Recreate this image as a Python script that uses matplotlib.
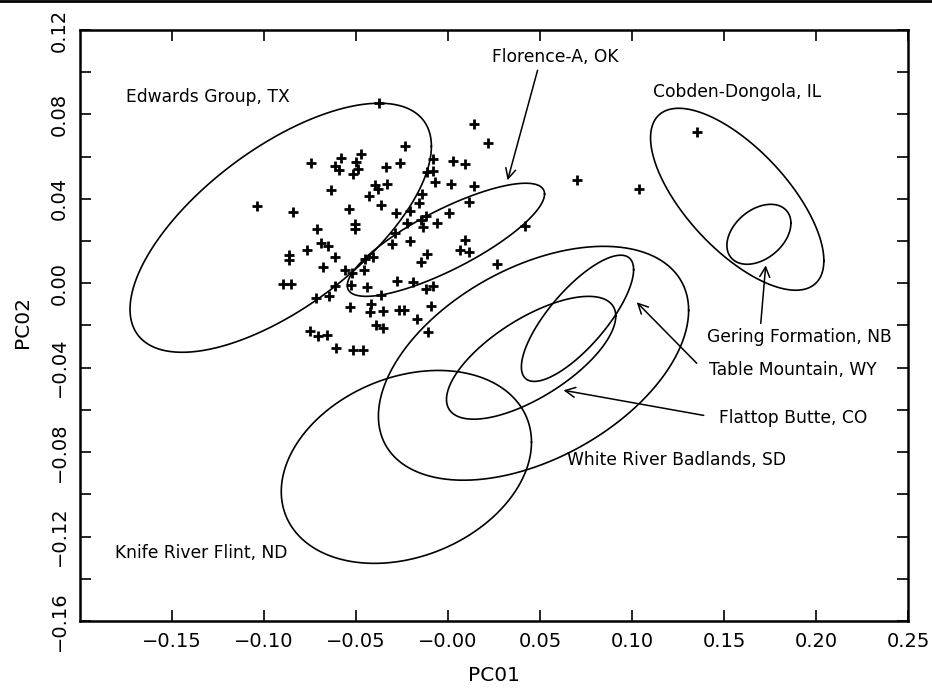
import numpy as np
import matplotlib
matplotlib.use('Agg')
import matplotlib.pyplot as plt
from matplotlib.lines import Line2D
from matplotlib.ticker import FixedLocator, FixedFormatter

#%% data
pc01 = [-0.0373, -0.0231, -0.0743, -0.0579, -0.0612, -0.0590, -0.0471, -0.0498, -0.0487, -0.0514,
        -0.0335, -0.0258, -0.0084, -0.0084, 0.0030, 0.0090, -0.0068, 0.0014, -0.0634, -0.0394,
        -0.0378, -0.0329, -0.0427, -0.0362, -0.1036, -0.0841, -0.0536, -0.0280, -0.0209, -0.0139,
        -0.0160, -0.0220, -0.0144, -0.0117, -0.0133, -0.0057, 0.0003, -0.0503, -0.0503, -0.0710,
        -0.0286, -0.0302, -0.0204, -0.0764, -0.0688, -0.0650, -0.0612, -0.0862, -0.0862, -0.0677,
        -0.0449, -0.0405, -0.0454, -0.0558, -0.0520, -0.0144, -0.0112, 0.0090, 0.0063, 0.0117,
        -0.0895, -0.0851, -0.0525, -0.0612, -0.0438, -0.0275, -0.0188, -0.0122, -0.0079, -0.0715,
        -0.0645, -0.0530, -0.0416, -0.0422, -0.0351, -0.0362, -0.0264, -0.0237, -0.0166, -0.0090,
        -0.0389, -0.0351, -0.0106, -0.0748, -0.0705, -0.0656, -0.0607, -0.0514, -0.0460, 0.0139,
        0.0220, 0.0139, 0.0112, 0.0416, 0.0264, 0.0699, 0.1036, 0.1352, -0.0112]
pc02 = [0.0853, 0.0649, 0.0569, 0.0592, 0.0555, 0.0536, 0.0611, 0.0573, 0.0540, 0.0517,
        0.0550, 0.0569, 0.0588, 0.0531, 0.0578, 0.0564, 0.0479, 0.0469, 0.0441, 0.0464,
        0.0445, 0.0469, 0.0412, 0.0370, 0.0365, 0.0336, 0.0351, 0.0332, 0.0341, 0.0422,
        0.0379, 0.0284, 0.0299, 0.0318, 0.0265, 0.0284, 0.0332, 0.0280, 0.0256, 0.0256,
        0.0237, 0.0185, 0.0199, 0.0156, 0.0190, 0.0175, 0.0123, 0.0133, 0.0109, 0.0076,
        0.0114, 0.0123, 0.0062, 0.0062, 0.0047, 0.0100, 0.0137, 0.0204, 0.0156, 0.0147,
        -0.0005, -0.0005, -0.0009, -0.0014, -0.0019, 0.0009, 0.0005, -0.0028, -0.0014, -0.0071,
        -0.0062, -0.0114, -0.0100, -0.0137, -0.0133, -0.0057, -0.0128, -0.0128, -0.0171, -0.0109,
        -0.0199, -0.0213, -0.0232, -0.0227, -0.0251, -0.0246, -0.0308, -0.0318, -0.0318, 0.0754,
        0.0664, 0.0460, 0.0384, 0.0270, 0.0090, 0.0488, 0.0445, 0.0716, 0.0526]

# source ellipses: centre, half extent in x and y, correlation
sources = ['Edwards Group, TX', 'Florence-A, OK', 'Cobden-Dongola, IL', 'Gering Formation, NB',
           'Table Mountain, WY', 'Flattop Butte, CO', 'White River Badlands, SD', 'Knife River Flint, ND']
ell_cx = [-0.0909, -0.0011, 0.1572, 0.1690, 0.0704, 0.0452, 0.0465, -0.0226]
ell_cy = [0.0263, 0.0206, 0.0398, 0.0232, -0.0166, -0.0353, -0.0379, -0.0870]
ell_rx = [0.0819, 0.0536, 0.0471, 0.0174, 0.0305, 0.0460, 0.0843, 0.0680]
ell_ry = [0.0590, 0.0268, 0.0431, 0.0142, 0.0299, 0.0291, 0.0554, 0.0457]
ell_r = [0.654, 0.808, -0.675, 0.37, 0.77, 0.678, 0.452, 0.256]

xticks = [-0.15, -0.10, -0.05, 0.00, 0.05, 0.10, 0.15, 0.20, 0.25]
xticklabels = ['\u22120.15', '\u22120.10', '\u22120.05', '\u22120.00', '0.05', '0.10', '0.15', '0.20', '0.25']
yticks = [-0.16, -0.12, -0.08, -0.04, 0.00, 0.04, 0.08, 0.12]
yticklabels = ['\u22120.16', '\u22120.12', '\u22120.08', '\u22120.04', '0.00', '0.04', '0.08', '0.12']

#%% plot
plt.rcParams['font.family'] = 'DejaVu Sans'
fig = plt.figure(figsize=(9.32, 6.89), dpi=100)
ax = fig.add_axes([0.0858, 0.0987, 0.8884, 0.8578])

t = np.linspace(0, 2 * np.pi, 400)
for cx, cy, rx, ry, r in zip(ell_cx, ell_cy, ell_rx, ell_ry, ell_r):
    phi = np.arccos(r)
    ax.plot(cx + rx * np.cos(t), cy + ry * np.cos(t - phi), color='black', lw=1.2)

ax.plot(pc01, pc02, linestyle='none', marker='+', color='black', markersize=7, mew=2)

# labels
lab_pos = {'Edwards Group, TX': (-0.1749, 0.0882),
           'Florence-A, OK': (0.0237, 0.1071),
           'Cobden-Dongola, IL': (0.1113, 0.0905),
           'Gering Formation, NB': (0.1406, -0.0256),
           'Table Mountain, WY': (0.1417, -0.0412),
           'Flattop Butte, CO': (0.1472, -0.0640),
           'White River Badlands, SD': (0.0645, -0.0839),
           'Knife River Flint, ND': (-0.1809, -0.1280)}
for name in sources:
    x0, y0 = lab_pos[name]
    ax.text(x0, y0, name, ha='left', va='center', fontsize=12.3)

arrows = [((0.0487, 0.1009), (0.0324, 0.0488)),
          ((0.1700, -0.0190), (0.1727, 0.0085)),
          ((0.1352, -0.0379), (0.1026, -0.0090)),
          ((0.1390, -0.0626), (0.0628, -0.0507))]
for start, tip in arrows:
    ax.annotate('', xy=tip, xytext=start,
                arrowprops=dict(arrowstyle='->', color='black', lw=1.1,
                                mutation_scale=18, shrinkA=0, shrinkB=0))

ax.set_xlim(-0.20, 0.25)
ax.set_ylim(-0.16, 0.12)
ax.xaxis.set_major_locator(FixedLocator(xticks))
ax.xaxis.set_major_formatter(FixedFormatter(xticklabels))
ax.yaxis.set_major_locator(FixedLocator(yticks))
ax.yaxis.set_major_formatter(FixedFormatter(yticklabels))
ax.yaxis.set_minor_locator(FixedLocator(np.arange(-0.14, 0.12, 0.04)))
ax.tick_params(which='both', direction='in', length=8, width=1.2, top=True, right=True,
               labelsize=14, pad=8)
ax.tick_params(axis='y', which='major', labelrotation=90)
for lbl in ax.get_yticklabels():
    lbl.set_va('center')
[s.set_linewidth(1.8) for s in ax.spines.values()]

fig.text(0.530, 0.020, 'PC01', ha='center', va='center', fontsize=14.5)
fig.text(0.024, 0.532, 'PC02', ha='center', va='center', fontsize=14.5, rotation=90)

# scan border at the top
fig.add_artist(Line2D([0, 1], [0.998, 0.998], color='black', lw=2, transform=fig.transFigure))

fig.savefig('out.png', dpi=100)
